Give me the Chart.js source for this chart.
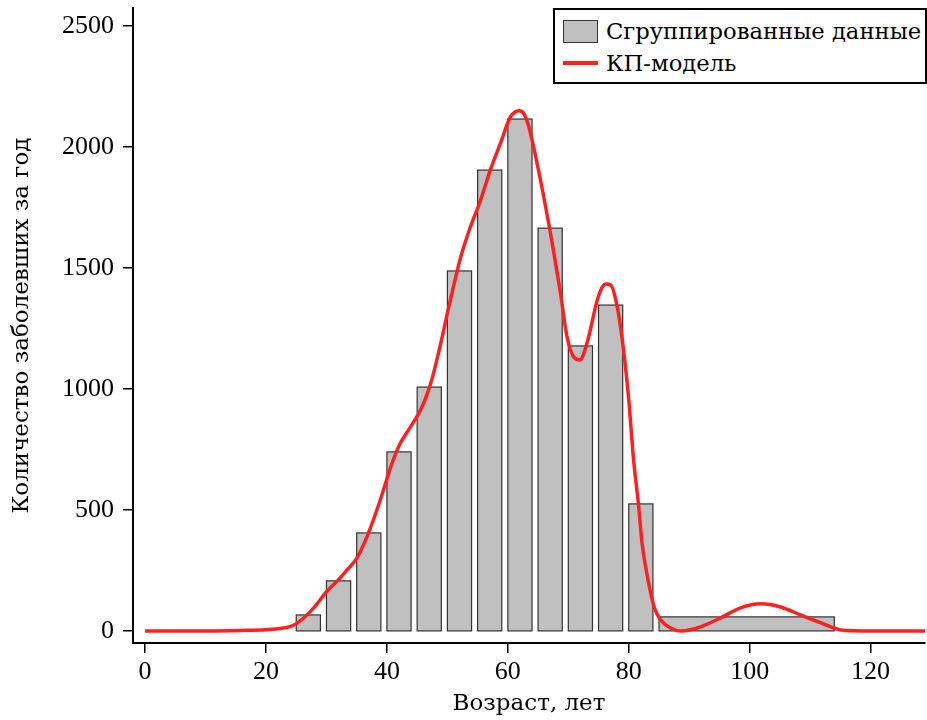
<!DOCTYPE html>
<html>
<head>
<meta charset="utf-8">
<script src="https://cdn.jsdelivr.net/npm/chart.js@4"></script>
<style>
  body { margin: 0; background: #fff; }
  #wrap { position: relative; width: 927px; height: 720px; }
  #legend {
    position: absolute; left: 553px; top: 8px; width: 370px; height: 72px;
    border: 2px solid #000; background: #fff;
    font-family: "DejaVu Serif", serif; font-size: 22.7px; color: #000;
  }
  .row { position: absolute; left: 8px; display: flex; align-items: center; }
  .box { width: 35px; height: 23px; background: #c0c0c0; border: 1px solid #333; box-sizing: border-box; margin-right: 8px; }
  .ln { width: 35px; height: 4px; background: #ff2020; margin-right: 8px; }
</style>
</head>
<body>
<div id="wrap">
  <canvas id="chart" width="927" height="720"></canvas>
  <div id="legend">
    <div class="row" style="top:8px"><div class="box"></div><span>Сгруппированные данные</span></div>
    <div class="row" style="top:40px"><div class="ln"></div><span>КП-модель</span></div>
  </div>
</div>
<script>
// grouped data: age bins and counts
const binStart = [25, 30, 35, 40, 45, 50, 55, 60, 65, 70, 75, 80, 85];
const binEnd = [29, 34, 39, 44, 49, 54, 59, 64, 69, 74, 79, 84, 114];
const binCount = [66, 207, 405, 740, 1008, 1488, 1905, 2116, 1665, 1178, 1347, 525, 58];

// model curve
const curveAge = [0, 10, 16, 20, 22, 24, 25, 26, 27.9, 29, 30.1, 32, 33.4, 35.0, 36.8, 38.9, 40.6, 41.4, 42.2, 43.3, 44.2, 45.5, 46.6, 47.5, 48.5, 50.5, 52.2, 53.8, 55.5, 57.1, 58.8, 60.4, 61.2, 61.8, 62.6, 63.4, 64.9, 66.9, 68.7, 69.8, 70.9, 71.9, 73.1, 74.8, 75.6, 76.2, 77.0, 78.1, 79.2, 80.0, 80.8, 81.6, 82.2, 83.1, 84.2, 85.3, 86.9, 88.6, 90.2, 91.9, 95.2, 98.5, 101.8, 105.1, 108.4, 111.8, 115.1, 120, 129];
const curveValue = [0, 0, 2, 5, 9, 18, 30, 48, 95, 130, 165, 212, 252, 300, 395, 541, 675, 730, 775, 820, 855, 910, 975, 1045, 1145, 1368, 1545, 1669, 1781, 1905, 2017, 2124, 2145, 2150, 2140, 2090, 1925, 1665, 1397, 1215, 1132, 1120, 1190, 1368, 1420, 1434, 1430, 1339, 1149, 955, 707, 525, 364, 223, 99, 45, 12, 0, 5, 17, 54, 95, 112, 99, 66, 33, 4, 0, 0];

const xTicks = [0, 20, 40, 60, 80, 100, 120];
const yTicks = [0, 500, 1000, 1500, 2000, 2500];

const tickFont = '"Liberation Serif", serif';
const titleFont = '"DejaVu Serif", serif';

// draws the histogram bars through the chart scales
const barsPlugin = {
  id: 'bars',
  beforeDatasetsDraw(chart) {
    const { ctx, chartArea, scales: { x, y } } = chart;
    ctx.save();
    ctx.beginPath();
    ctx.rect(chartArea.left, chartArea.top, chartArea.width, chartArea.height);
    ctx.clip();
    ctx.fillStyle = '#c0c0c0';
    ctx.strokeStyle = '#333';
    ctx.lineWidth = 1.2;
    for (let i = 0; i < binCount.length; i++) {
      const x0 = x.getPixelForValue(binStart[i]);
      const x1 = x.getPixelForValue(binEnd[i]);
      const y0 = y.getPixelForValue(0);
      const y1 = y.getPixelForValue(binCount[i]);
      ctx.fillRect(x0, y1, x1 - x0, y0 - y1);
      ctx.strokeRect(x0, y1, x1 - x0, y0 - y1);
    }
    ctx.restore();
  }
};

function axisOpts(min, max, ticks, title, pad, titlePad) {
  return {
    type: 'linear',
    min: min,
    max: max,
    afterBuildTicks: s => { s.ticks = ticks.map(v => ({ value: v })); },
    ticks: { color: '#000', font: { family: tickFont, size: 26 }, padding: pad, callback: v => String(v) },
    grid: { drawOnChartArea: false, color: '#000', lineWidth: 1.5, tickLength: 10 },
    border: { color: '#000', width: 2 },
    title: { display: true, text: title, color: '#000', font: { family: titleFont, size: 23 }, padding: titlePad }
  };
}

const xOpts = axisOpts(-2, 129, xTicks, 'Возраст, лет', 4, { top: 4, bottom: 2 });
xOpts.afterFit = s => { s.height = 77; s.paddingLeft = 0; s.paddingRight = 0; };
const yOpts = axisOpts(-50, 2575, yTicks, 'Количество заболевших за год', 9, { top: 8, bottom: 4 });
yOpts.afterFit = s => { s.width = 133; s.paddingTop = 0; s.paddingBottom = 0; };

new Chart(document.getElementById('chart'), {
  type: 'scatter',
  data: {
    datasets: [{
      label: 'КП-модель',
      data: curveAge.map((a, i) => ({ x: a, y: curveValue[i] })),
      showLine: true,
      borderColor: '#ff2020',
      borderWidth: 3.5,
      pointRadius: 0,
      cubicInterpolationMode: 'monotone',
      fill: false
    }]
  },
  options: {
    responsive: false,
    animation: false,
    layout: { padding: { top: 8, right: 2, left: 0, bottom: 0 } },
    plugins: { legend: { display: false }, tooltip: { enabled: false } },
    scales: { x: xOpts, y: yOpts }
  },
  plugins: [barsPlugin]
});
</script>
</body>
</html>
